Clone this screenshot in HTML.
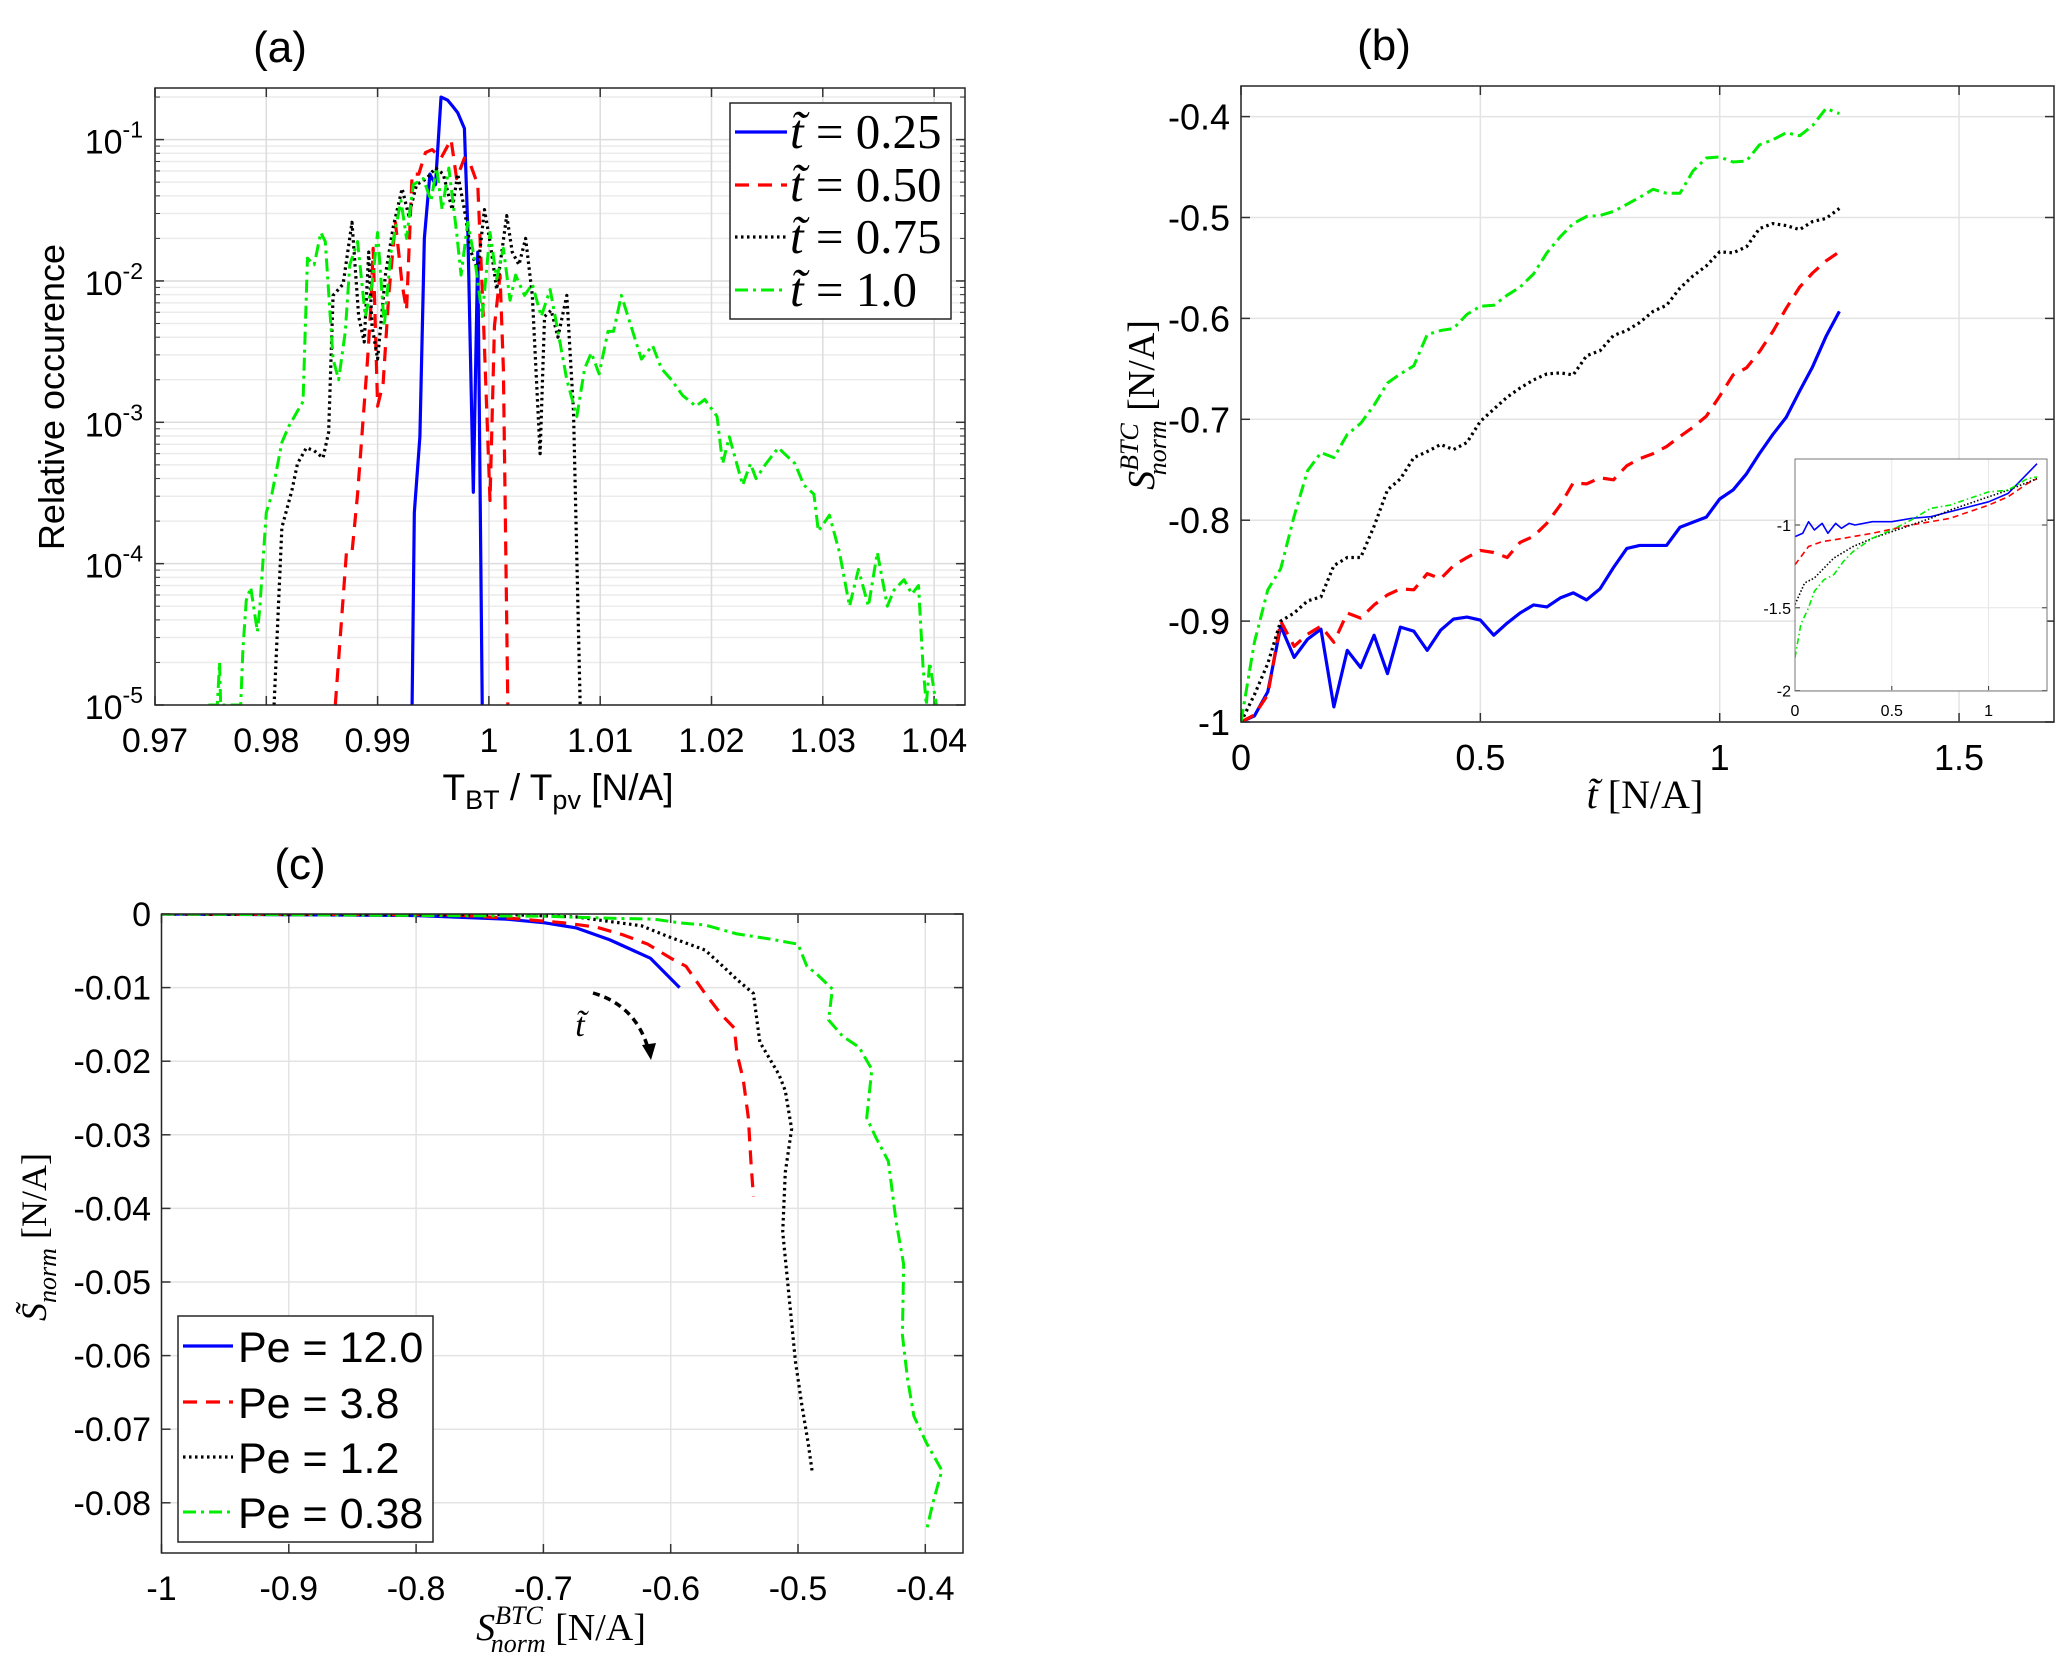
<!DOCTYPE html>
<html><head><meta charset="utf-8">
<style>
html,body{margin:0;padding:0;background:#fff;}
svg{display:block;}
text{font-family:"Liberation Sans",sans-serif;fill:#000;}
.serif{font-family:"Liberation Serif","DejaVu Serif",serif;}
</style></head>
<body>
<svg id="fig" width="2067" height="1666" viewBox="0 0 2067 1666" xmlns="http://www.w3.org/2000/svg">
<defs>
<clipPath id="clipA"><rect x="155" y="88" width="810" height="617"/></clipPath>
<clipPath id="clipB"><rect x="1241" y="86" width="813" height="636"/></clipPath>
<clipPath id="clipI"><rect x="1795" y="459" width="252" height="232"/></clipPath>
<clipPath id="clipC"><rect x="161.5" y="914" width="801.5" height="639"/></clipPath>
</defs>
<g id="panelA"></g>
<g id="panelB"></g>
<g id="panelC"></g>
</svg>
<script>
// ---------- Panel (a) data ----------
const aBlueX=[0.9931,0.9933,0.9938,0.9942,0.9947,0.9952,0.9957,0.9963,0.9968,0.9972,0.9978,0.9981,0.9986,0.9990,0.9994];
const aBlueY=[1e-5,2.3e-4,7.9e-4,2.0e-2,5.7e-2,4.8e-2,0.20,0.19,0.17,0.155,0.12,0.024,3.2e-4,0.016,1e-5];
const aRedX=[0.9862,0.9872,0.9877,0.9882,0.9891,0.9894,0.9896,0.9900,0.9905,0.9910,0.9916,0.9922,0.9926,0.9931,0.9937,0.9943,0.9949,0.9957,0.9966,0.9971,0.9978,0.9983,0.9990,0.9995,1.0001,1.0005,1.0010,1.0013,1.0017];
const aRedY=[1e-5,1.2e-4,1.2e-4,3.1e-4,2.8e-3,6.7e-3,1.7e-2,1.3e-3,1.9e-3,7.9e-3,0.026,9.5e-3,6.2e-3,0.057,0.057,0.081,0.085,0.074,0.1,0.053,0.074,0.068,0.048,5.6e-3,2.8e-4,4.8e-3,0.011,2.4e-3,1e-5];
const aBlackX=[0.9807,0.9814,0.9823,0.9828,0.9836,0.9843,0.9851,0.9856,0.9860,0.9869,0.9877,0.9883,0.9888,0.9892,0.9895,0.9900,0.9907,0.9914,0.9922,0.9928,0.9935,0.9944,0.9952,0.9959,0.9967,0.9972,0.9978,0.9984,0.9990,0.9996,1.0001,1.0007,1.0016,1.0021,1.0027,1.0033,1.0039,1.0046,1.0050,1.0056,1.0062,1.0070,1.0076,1.0082];
const aBlackY=[1e-5,1.8e-4,3.3e-4,5.1e-4,6.6e-4,6.3e-4,5.6e-4,8.5e-4,7.9e-3,9.5e-3,0.026,5.6e-3,3.7e-3,0.016,4.8e-3,2.8e-3,0.011,0.024,0.045,0.029,0.048,0.053,0.063,0.057,0.032,0.057,0.032,0.016,0.012,0.032,0.019,8.7e-3,0.029,0.016,0.013,0.020,7.9e-3,6.0e-4,5.6e-3,6.2e-3,4.0e-3,7.9e-3,1.2e-3,1e-5];
const aGreenX=[0.9748,0.9756,0.9758,0.9759,0.9768,0.9777,0.9779,0.9782,0.9786,0.9792,0.9794,0.9800,0.9805,0.9814,0.9820,0.9828,0.9833,0.9837,0.9843,0.9849,0.9853,0.9860,0.9865,0.9871,0.9875,0.9882,0.9889,0.9895,0.9900,0.9906,0.9912,0.9921,0.9926,0.9932,0.9941,0.9948,0.9953,0.9958,0.9964,0.9971,0.9975,0.9981,0.9988,0.9994,1.0001,1.0007,1.0013,1.0019,1.0024,1.0032,1.0039,1.0047,1.0055,1.0063,1.0070,1.0079,1.0086,1.0092,1.0099,1.0107,1.0112,1.0119,1.0125,1.0137,1.0147,1.0155,1.0164,1.0174,1.0186,1.0194,1.0205,1.0210,1.0216,1.0228,1.0235,1.0240,1.0249,1.0260,1.0275,1.0283,1.0292,1.0296,1.0306,1.0315,1.0324,1.0332,1.0341,1.0349,1.0358,1.0364,1.0373,1.0380,1.0386,1.0390,1.0393,1.0396,1.0402];
const aGreenY=[1e-5,1e-5,2e-5,1e-5,1e-5,1e-5,2.5e-5,5.5e-5,6.8e-5,3.3e-5,4.7e-5,2.3e-4,3.1e-4,7.2e-4,9.3e-4,1.2e-3,1.4e-3,0.0145,0.013,0.022,0.019,2.8e-3,2e-3,4.4e-3,0.013,0.019,5.6e-3,9.5e-3,0.022,4.8e-3,0.016,0.037,0.020,0.048,0.053,0.037,0.063,0.032,0.063,0.022,0.011,0.026,0.013,5.6e-3,0.022,0.0103,0.017,7.3e-3,0.011,7.9e-3,9.5e-3,5.6e-3,8.7e-3,4.0e-3,2e-3,1.1e-3,2.4e-3,3.1e-3,2.2e-3,4.4e-3,4.4e-3,7.9e-3,5.6e-3,2.8e-3,3.5e-3,2.4e-3,2e-3,1.55e-3,1.3e-3,1.45e-3,1.1e-3,5.1e-4,7.9e-4,3.6e-4,5.1e-4,4e-4,5.1e-4,6.6e-4,5.1e-4,3.6e-4,3.1e-4,1.7e-4,2.2e-4,1.2e-4,5e-5,9.1e-5,5e-5,1.2e-4,5e-5,6.5e-5,7.7e-5,6.1e-5,7e-5,1.9e-5,1e-5,2e-5,1e-5];
const aXTicks=[0.97,0.98,0.99,1,1.01,1.02,1.03,1.04];
const aXTickLabels=["0.97","0.98","0.99","1","1.01","1.02","1.03","1.04"];
const aYExps=[-1,-2,-3,-4,-5];
const aLegendLabels=["0.25","0.50","0.75","1.0"];

// ---------- Panel (b) data ----------
const bT=[0,0.028,0.056,0.083,0.111,0.139,0.167,0.194,0.222,0.25,0.278,0.306,0.333,0.361,0.389,0.417,0.444,0.472,0.5,0.528,0.556,0.583,0.611,0.639,0.667,0.694,0.722,0.75,0.778,0.806,0.833,0.861,0.889,0.917,0.944,0.972,1.0,1.028,1.056,1.083,1.111,1.139,1.167,1.194,1.222,1.25];
const bBlue=[-1,-0.994,-0.970,-0.905,-0.936,-0.918,-0.908,-0.985,-0.929,-0.946,-0.914,-0.952,-0.906,-0.910,-0.929,-0.909,-0.898,-0.896,-0.899,-0.914,-0.902,-0.892,-0.884,-0.886,-0.877,-0.872,-0.879,-0.868,-0.847,-0.828,-0.825,-0.825,-0.825,-0.807,-0.802,-0.797,-0.779,-0.770,-0.754,-0.734,-0.715,-0.698,-0.672,-0.648,-0.618,-0.593];
const bRed=[-1,-0.993,-0.973,-0.900,-0.925,-0.913,-0.905,-0.921,-0.892,-0.897,-0.884,-0.874,-0.868,-0.869,-0.853,-0.858,-0.845,-0.837,-0.830,-0.832,-0.837,-0.822,-0.816,-0.803,-0.785,-0.763,-0.764,-0.758,-0.760,-0.746,-0.739,-0.734,-0.727,-0.717,-0.708,-0.697,-0.677,-0.656,-0.649,-0.633,-0.613,-0.590,-0.569,-0.555,-0.543,-0.534];
const bBlack=[-1,-0.973,-0.942,-0.900,-0.892,-0.880,-0.876,-0.845,-0.837,-0.837,-0.806,-0.770,-0.759,-0.738,-0.732,-0.725,-0.730,-0.723,-0.702,-0.690,-0.678,-0.669,-0.661,-0.655,-0.654,-0.656,-0.637,-0.632,-0.617,-0.612,-0.604,-0.593,-0.587,-0.570,-0.558,-0.548,-0.534,-0.535,-0.529,-0.511,-0.506,-0.508,-0.512,-0.504,-0.501,-0.491];
const bGreen=[-1,-0.921,-0.869,-0.848,-0.796,-0.751,-0.733,-0.738,-0.715,-0.704,-0.686,-0.664,-0.655,-0.647,-0.616,-0.612,-0.610,-0.596,-0.588,-0.587,-0.577,-0.569,-0.556,-0.535,-0.519,-0.506,-0.499,-0.498,-0.494,-0.487,-0.480,-0.472,-0.476,-0.476,-0.454,-0.441,-0.440,-0.445,-0.444,-0.428,-0.423,-0.416,-0.419,-0.409,-0.392,-0.397];
const bXTicks=[0,0.5,1,1.5];
const bXTickLabels=["0","0.5","1","1.5"];
const bYTicks=[-1,-0.9,-0.8,-0.7,-0.6,-0.5,-0.4];
const bYTickLabels=["-1","-0.9","-0.8","-0.7","-0.6","-0.5","-0.4"];
// inset
const iBlueT=[0,0.04,0.07,0.1,0.14,0.17,0.21,0.24,0.28,0.31,0.4,0.5,0.6,0.7,0.8,0.9,1.0,1.1,1.25];
const iBlue=[-1.07,-1.05,-0.98,-1.03,-0.99,-1.05,-0.99,-1.02,-0.99,-1.0,-0.98,-0.98,-0.96,-0.95,-0.92,-0.89,-0.86,-0.81,-0.63];
const iRedT=[0,0.07,0.14,0.2,0.4,0.6,0.8,1.0,1.1,1.2,1.25];
const iRed=[-1.24,-1.13,-1.1,-1.09,-1.05,-1.0,-0.96,-0.88,-0.83,-0.75,-0.72];
const iBlackT=[0,0.05,0.1,0.2,0.3,0.4,0.5,0.6,0.7,0.8,0.9,1.0,1.1,1.25];
const iBlack=[-1.48,-1.35,-1.32,-1.2,-1.13,-1.08,-1.04,-1.0,-0.96,-0.91,-0.87,-0.83,-0.79,-0.72];
const iGreenT=[0,0.03,0.07,0.1,0.15,0.2,0.25,0.3,0.4,0.5,0.6,0.7,0.8,0.9,1.0,1.1,1.2,1.25];
const iGreen=[-1.8,-1.6,-1.5,-1.4,-1.33,-1.3,-1.22,-1.16,-1.08,-1.03,-0.97,-0.9,-0.88,-0.84,-0.8,-0.79,-0.72,-0.71];
const iXTicks=[0,0.5,1];
const iXTickLabels=["0","0.5","1"];
const iYTicks=[-1,-1.5,-2];
const iYTickLabels=["-1","-1.5","-2"];

// ---------- Panel (c) data ----------
const cBlueX=[-1,-0.8,-0.729,-0.699,-0.674,-0.648,-0.616,-0.593];
const cBlueY=[0,-0.0002,-0.0007,-0.0012,-0.0019,-0.0035,-0.006,-0.010];
const cRedX=[-1,-0.774,-0.724,-0.684,-0.658,-0.638,-0.618,-0.600,-0.588,-0.573,-0.560,-0.550,-0.548,-0.543,-0.539,-0.537,-0.535];
const cRedY=[0,-0.0001,-0.0006,-0.0012,-0.0018,-0.0028,-0.0041,-0.006,-0.0071,-0.0108,-0.0137,-0.0155,-0.0189,-0.0225,-0.0277,-0.0336,-0.0384];
const cBlackX=[-1,-0.724,-0.674,-0.653,-0.623,-0.603,-0.573,-0.559,-0.548,-0.535,-0.530,-0.515,-0.510,-0.505,-0.510,-0.512,-0.507,-0.502,-0.497,-0.492,-0.489];
const cBlackY=[0,-0.0001,-0.0004,-0.0009,-0.0016,-0.003,-0.0049,-0.0071,-0.0089,-0.0108,-0.0174,-0.0218,-0.024,-0.0292,-0.0351,-0.0432,-0.052,-0.0608,-0.0667,-0.0719,-0.0756];
const cGreenX=[-1,-0.699,-0.643,-0.613,-0.593,-0.573,-0.548,-0.522,-0.500,-0.493,-0.485,-0.473,-0.476,-0.465,-0.452,-0.442,-0.446,-0.439,-0.429,-0.423,-0.417,-0.418,-0.414,-0.409,-0.399,-0.387,-0.394,-0.399];
const cGreenY=[0,-0.0003,-0.0006,-0.0007,-0.0012,-0.0015,-0.0027,-0.0034,-0.0041,-0.0071,-0.0082,-0.0102,-0.0144,-0.0166,-0.0181,-0.0211,-0.0277,-0.0303,-0.0336,-0.0417,-0.0476,-0.0572,-0.0631,-0.0682,-0.0719,-0.0756,-0.080,-0.0837];
const cXTicks=[-1,-0.9,-0.8,-0.7,-0.6,-0.5,-0.4];
const cXTickLabels=["-1","-0.9","-0.8","-0.7","-0.6","-0.5","-0.4"];
const cYTicks=[0,-0.01,-0.02,-0.03,-0.04,-0.05,-0.06,-0.07,-0.08];
const cYTickLabels=["0","-0.01","-0.02","-0.03","-0.04","-0.05","-0.06","-0.07","-0.08"];
const cLegendLabels=["Pe = 12.0","Pe = 3.8","Pe = 1.2","Pe = 0.38"];

// ---------- helpers ----------
const NS="http://www.w3.org/2000/svg";
function mk(parent,tag,attrs){const e=document.createElementNS(NS,tag);for(const k in attrs)e.setAttribute(k,attrs[k]);parent.appendChild(e);return e;}
const STY=[
 {stroke:"#0000ff",dash:"",w:3.2},
 {stroke:"#ff0000",dash:"14,9",w:3.2},
 {stroke:"#000000",dash:"2.5,3.5",w:3.2},
 {stroke:"#00ee00",dash:"13,5,3,5",w:3}
];
function series(g,xs,ys,fx,fy,s,clip){
 let d="";for(let i=0;i<xs.length;i++){d+=(i?"L":"M")+fx(xs[i]).toFixed(2)+","+fy(ys[i]).toFixed(2);}
 const p=mk(g,"path",{d:d,fill:"none",stroke:s.stroke,"stroke-width":s.w,"stroke-dasharray":s.dash,"stroke-linejoin":"round","clip-path":"url(#"+clip+")"});
 return p;
}

// ---------- Panel A ----------
(function(){
 const g=document.getElementById("panelA");
 const L=155,R=965,T=88,B=705;
 const xa=v=>L+(v-0.97)*11130;
 const ya=v=>B-(Math.log10(v)+5)*141.35;
 mk(g,"rect",{x:L,y:T,width:R-L,height:B-T,fill:"#fff"});
 for(let e=-5;e<0;e++){for(let m=2;m<10;m++){const y=ya(m*Math.pow(10,e));if(y<T)continue;
  const l=mk(g,"line",{x1:L,x2:R,y1:y,y2:y,stroke:"#ececec","stroke-width":1.5});
  
  
  mk(g,"line",{x1:L,x2:L+5,y1:y,y2:y,stroke:"#333","stroke-width":1});
  mk(g,"line",{x1:R,x2:R-5,y1:y,y2:y,stroke:"#333","stroke-width":1});
 }}
 aYExps.forEach(e=>{const y=ya(Math.pow(10,e));
  const l=mk(g,"line",{x1:L,x2:R,y1:y,y2:y,stroke:"#dcdcdc","stroke-width":1.5});
  
  
  mk(g,"line",{x1:L,x2:L+9,y1:y,y2:y,stroke:"#333","stroke-width":1.5});
  mk(g,"line",{x1:R,x2:R-9,y1:y,y2:y,stroke:"#333","stroke-width":1.5});
  const t=mk(g,"text",{x:L-12,y:y+14,"text-anchor":"end","font-size":34});
  
  
  t.textContent="10";
  const s=mk(t,"tspan",{dy:-16,"font-size":23});s.textContent=String(e);
 });
 aXTicks.forEach((v,i)=>{const x=xa(v);
  const l=mk(g,"line",{x1:x,x2:x,y1:T,y2:B,stroke:"#dcdcdc","stroke-width":1.5});
  
  
  mk(g,"line",{x1:x,x2:x,y1:B,y2:B-9,stroke:"#333","stroke-width":1.5});
  mk(g,"line",{x1:x,x2:x,y1:T,y2:T+9,stroke:"#333","stroke-width":1.5});
  const t=mk(g,"text",{x:x,y:752,"text-anchor":"middle","font-size":34});
  
  
  t.textContent=aXTickLabels[i];
 });
 const sets=[[aBlueX,aBlueY],[aRedX,aRedY],[aBlackX,aBlackY],[aGreenX,aGreenY]];
 const names=["series-t-0.25","series-t-0.50","series-t-0.75","series-t-1.0"];
 sets.forEach((s,i)=>{const p=series(g,s[0],s[1],xa,ya,STY[i],"clipA");
  
  });
 mk(g,"rect",{x:L,y:T,width:R-L,height:B-T,fill:"none",stroke:"#262626","stroke-width":1.5});
 const lg=mk(g,"g",{});
 
 
 mk(lg,"rect",{x:730,y:103,width:221,height:216,fill:"#fff",stroke:"#262626","stroke-width":1.5});
 const ly=[132,185,237,290];
 aLegendLabels.forEach((lab,i)=>{
  const e=mk(lg,"g",{});
  
  
  mk(e,"line",{x1:735,x2:787,y1:ly[i],y2:ly[i],stroke:STY[i].stroke,"stroke-width":STY[i].w,"stroke-dasharray":STY[i].dash});
  const t=mk(e,"text",{x:790,y:ly[i]+16,"font-size":49,"class":"serif"});
  const a=mk(t,"tspan",{"font-style":"italic"});a.textContent="t\u0303";
  const b=mk(t,"tspan",{});b.textContent=" = "+lab;
 });
 const tt=mk(g,"text",{x:280,y:62,"text-anchor":"middle","font-size":44});
 
 
 tt.textContent="(a)";
 const yl=mk(g,"text",{x:0,y:0,"text-anchor":"middle","font-size":36,transform:"translate(64,397) rotate(-90)"});
 
 
 yl.textContent="Relative occurence";
 const xl=mk(g,"text",{x:558,y:800,"text-anchor":"middle","font-size":37});
 
 
 xl.innerHTML='T<tspan dy="9" font-size="27">BT</tspan><tspan dy="-9"> / T</tspan><tspan dy="9" font-size="27">pv</tspan><tspan dy="-9"> [N/A]</tspan>';
})();

// ---------- Panel B ----------
(function(){
 const g=document.getElementById("panelB");
 const L=1241,R=2054,T=86,B=722;
 const xb=v=>L+v*478.7;
 const yb=v=>B-(v+1)*1009;
 mk(g,"rect",{x:L,y:T,width:R-L,height:B-T,fill:"#fff"});
 bXTicks.forEach((v,i)=>{const x=xb(v);
  const l=mk(g,"line",{x1:x,x2:x,y1:T,y2:B,stroke:"#e3e3e3","stroke-width":1.5});
  
  
  mk(g,"line",{x1:x,x2:x,y1:B,y2:B-9,stroke:"#333","stroke-width":1.5});
  mk(g,"line",{x1:x,x2:x,y1:T,y2:T+9,stroke:"#333","stroke-width":1.5});
  const t=mk(g,"text",{x:x,y:770,"text-anchor":"middle","font-size":36});
  
  
  t.textContent=bXTickLabels[i];
 });
 bYTicks.forEach((v,i)=>{const y=yb(v);
  const l=mk(g,"line",{x1:L,x2:R,y1:y,y2:y,stroke:"#e3e3e3","stroke-width":1.5});
  
  
  mk(g,"line",{x1:L,x2:L+9,y1:y,y2:y,stroke:"#333","stroke-width":1.5});
  mk(g,"line",{x1:R,x2:R-9,y1:y,y2:y,stroke:"#333","stroke-width":1.5});
  const t=mk(g,"text",{x:1230,y:y+13,"text-anchor":"end","font-size":36});
  
  
  t.textContent=bYTickLabels[i];
 });
 const sets=[bBlue,bRed,bBlack,bGreen];
 const names=["series-blue","series-red","series-black","series-green"];
 sets.forEach((s,i)=>{const p=series(g,bT,s,xb,yb,STY[i],"clipB");
  
  });
 mk(g,"rect",{x:L,y:T,width:R-L,height:B-T,fill:"none",stroke:"#262626","stroke-width":1.5});
 const ig=mk(g,"g",{});
 
 
 const iL=1795,iR=2047,iT=459,iB=691;
 const xi=v=>iL+v*193.6;
 const yi=v=>525+(-1-v)*165.6;
 mk(ig,"rect",{x:iL,y:iT,width:iR-iL,height:iB-iT,fill:"#fff"});
 iXTicks.forEach((v,i)=>{const x=xi(v);
  mk(ig,"line",{x1:x,x2:x,y1:iT,y2:iB,stroke:"#e6e6e6","stroke-width":1});
  mk(ig,"line",{x1:x,x2:x,y1:iB,y2:iB-5,stroke:"#333","stroke-width":1});
  const t=mk(ig,"text",{x:x,y:716,"text-anchor":"middle","font-size":16});
  
  
  t.textContent=iXTickLabels[i];
 });
 iYTicks.forEach((v,i)=>{const y=yi(v);
  mk(ig,"line",{x1:iL,x2:iR,y1:y,y2:y,stroke:"#e6e6e6","stroke-width":1});
  mk(ig,"line",{x1:iL,x2:iL+5,y1:y,y2:y,stroke:"#333","stroke-width":1});
  mk(ig,"line",{x1:iR,x2:iR-5,y1:y,y2:y,stroke:"#333","stroke-width":1});
  const t=mk(ig,"text",{x:iL-4,y:y+6,"text-anchor":"end","font-size":16});
  
  
  t.textContent=iYTickLabels[i];
 });
 const iS=[[iBlueT,iBlue],[iRedT,iRed],[iBlackT,iBlack],[iGreenT,iGreen]];
 iS.forEach((s,i)=>{const st={stroke:STY[i].stroke,dash:i==1?"6,4":(i==2?"1.5,2":(i==3?"6,3,1.5,3":"")),w:1.6};
  const p=series(ig,s[0],s[1],xi,yi,st,"clipI");
  
  });
 mk(ig,"rect",{x:iL,y:iT,width:iR-iL,height:iB-iT,fill:"none",stroke:"#777","stroke-width":1});
 const tt=mk(g,"text",{x:1384,y:60,"text-anchor":"middle","font-size":44});
 
 
 tt.textContent="(b)";
 const yl=mk(g,"text",{x:0,y:0,"text-anchor":"middle","font-size":38,"class":"serif",transform:"translate(1154,405) rotate(-90)"});
 
 
 yl.innerHTML='<tspan font-style="italic">S</tspan><tspan font-style="italic" font-size="26" dy="-16">BTC</tspan><tspan font-style="italic" font-size="26" dx="-52" dy="28">norm</tspan><tspan dy="-12"> [N/A]</tspan>';
 const xl=mk(g,"text",{x:1645,y:808,"text-anchor":"middle","font-size":40,"class":"serif"});
 
 
 xl.innerHTML='<tspan font-style="italic">t\u0303</tspan> [N/A]';
})();

// ---------- Panel C ----------
(function(){
 const g=document.getElementById("panelC");
 const L=161.5,R=963,T=914,B=1553;
 const xc=v=>L+(v+1)*1273;
 const yc=v=>T-v*7360;
 mk(g,"rect",{x:L,y:T,width:R-L,height:B-T,fill:"#fff"});
 cXTicks.forEach((v,i)=>{const x=xc(v);
  const l=mk(g,"line",{x1:x,x2:x,y1:T,y2:B,stroke:"#e3e3e3","stroke-width":1.5});
  
  
  mk(g,"line",{x1:x,x2:x,y1:B,y2:B-9,stroke:"#333","stroke-width":1.5});
  mk(g,"line",{x1:x,x2:x,y1:T,y2:T+9,stroke:"#333","stroke-width":1.5});
  const t=mk(g,"text",{x:x,y:1600,"text-anchor":"middle","font-size":34});
  
  
  t.textContent=cXTickLabels[i];
 });
 cYTicks.forEach((v,i)=>{const y=yc(v);
  const l=mk(g,"line",{x1:L,x2:R,y1:y,y2:y,stroke:"#e3e3e3","stroke-width":1.5});
  
  
  mk(g,"line",{x1:L,x2:L+9,y1:y,y2:y,stroke:"#333","stroke-width":1.5});
  mk(g,"line",{x1:R,x2:R-9,y1:y,y2:y,stroke:"#333","stroke-width":1.5});
  const t=mk(g,"text",{x:151,y:y+12,"text-anchor":"end","font-size":34});
  
  
  t.textContent=cYTickLabels[i];
 });
 const sets=[[cBlueX,cBlueY],[cRedX,cRedY],[cBlackX,cBlackY],[cGreenX,cGreenY]];
 const names=["series-pe-12","series-pe-3.8","series-pe-1.2","series-pe-0.38"];
 sets.forEach((s,i)=>{const p=series(g,s[0],s[1],xc,yc,STY[i],"clipC");
  
  });
 mk(g,"rect",{x:L,y:T,width:R-L,height:B-T,fill:"none",stroke:"#262626","stroke-width":1.5});
 const ar=mk(g,"g",{});
 
 
 mk(ar,"path",{d:"M593,993 Q635,1005 648,1048",fill:"none",stroke:"#000","stroke-width":3.5,"stroke-dasharray":"7,5"});
 mk(ar,"path",{d:"M642,1045 L651,1060 L656,1043 Z",fill:"#000"});
 const at=mk(ar,"text",{x:580,y:1036,"text-anchor":"middle","font-size":34,"font-style":"italic","class":"serif"});
 at.textContent="t\u0303";
 const lg=mk(g,"g",{});
 
 
 mk(lg,"rect",{x:178,y:1316,width:255,height:226,fill:"#fff",stroke:"#262626","stroke-width":1.5});
 const ly=[1346,1402,1457,1512];
 cLegendLabels.forEach((lab,i)=>{
  const e=mk(lg,"g",{});
  
  
  mk(e,"line",{x1:183,x2:233,y1:ly[i],y2:ly[i],stroke:STY[i].stroke,"stroke-width":STY[i].w,"stroke-dasharray":STY[i].dash});
  const t=mk(e,"text",{x:238,y:ly[i]+16,"font-size":43});
  t.textContent=lab;
 });
 const tt=mk(g,"text",{x:300,y:879,"text-anchor":"middle","font-size":44});
 
 
 tt.textContent="(c)";
 const yl=mk(g,"text",{x:0,y:0,"text-anchor":"middle","font-size":36,"class":"serif",transform:"translate(46,1237) rotate(-90)"});
 
 
 yl.innerHTML='<tspan font-style="italic">S\u0303</tspan><tspan font-style="italic" font-size="26" dy="10">norm</tspan><tspan dy="-10"> [N/A]</tspan>';
 const xl=mk(g,"text",{x:561,y:1640,"text-anchor":"middle","font-size":38,"class":"serif"});
 
 
 xl.innerHTML='<tspan font-style="italic">S</tspan><tspan font-style="italic" font-size="26" dy="-16">BTC</tspan><tspan font-style="italic" font-size="26" dx="-52" dy="28">norm</tspan><tspan dy="-12"> [N/A]</tspan>';
})();
</script>
</body></html>
